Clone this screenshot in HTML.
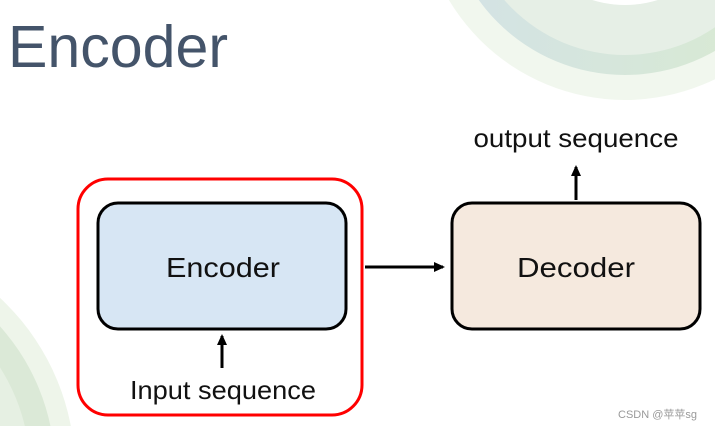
<!DOCTYPE html>
<html><head><style>
html,body{margin:0;padding:0;width:715px;height:426px;overflow:hidden;background:#fff;font-family:"Liberation Sans",sans-serif;}
svg{display:block;}
</style></head><body>
<svg width="715" height="426" viewBox="0 0 715 426" xmlns="http://www.w3.org/2000/svg">
<defs>
<linearGradient id="g1" x1="0" x2="1" y1="0" y2="0">
<stop offset="0" stop-color="#d3e2e6"/><stop offset="1" stop-color="#d9ebcf"/></linearGradient>
<marker id="ah" markerWidth="12" markerHeight="12" refX="9" refY="6" orient="auto" markerUnits="userSpaceOnUse"><path d="M0,1 L11,6 L0,11 z" fill="#000"/></marker>
</defs>
<circle cx="625" cy="-105" r="205" fill="#f1f7ee"/>
<circle cx="625" cy="-105" r="180" fill="url(#g1)"/>
<circle cx="625" cy="-105" r="160" fill="#e6efe6"/>
<circle cx="625" cy="-105" r="110" fill="#fff"/>
<circle cx="-160" cy="470" r="235" fill="#eef5ea"/>
<circle cx="-160" cy="470" r="215" fill="#dbe9d7"/>
<circle cx="-160" cy="470" r="190" fill="#e6f0e3"/>
<circle cx="-160" cy="470" r="165" fill="#fff"/>
<text x="8" y="67" font-size="59" fill="#44546a" textLength="220" lengthAdjust="spacingAndGlyphs">Encoder</text>
<rect x="78" y="179" width="284" height="236" rx="30" fill="#fff" stroke="#f00" stroke-width="3"/>
<rect x="98" y="203" width="248" height="126" rx="20" fill="#d7e6f4" stroke="#000" stroke-width="3"/>
<text x="223" y="277" text-anchor="middle" font-size="28" fill="#111" textLength="114" lengthAdjust="spacingAndGlyphs">Encoder</text>
<rect x="452" y="203" width="248" height="126" rx="20" fill="#f5e9de" stroke="#000" stroke-width="3"/>
<text x="576" y="277" text-anchor="middle" font-size="28" fill="#111" textLength="118" lengthAdjust="spacingAndGlyphs">Decoder</text>
<line x1="222" y1="368" x2="222" y2="336" stroke="#000" stroke-width="3" marker-end="url(#ah)"/>
<text x="223" y="399" text-anchor="middle" font-size="26" fill="#111" textLength="186" lengthAdjust="spacingAndGlyphs">Input sequence</text>
<line x1="365" y1="267" x2="443" y2="267" stroke="#000" stroke-width="3" marker-end="url(#ah)"/>
<line x1="576" y1="200" x2="576" y2="167" stroke="#000" stroke-width="3" marker-end="url(#ah)"/>
<text x="576" y="147" text-anchor="middle" font-size="26" fill="#111" textLength="205" lengthAdjust="spacingAndGlyphs">output sequence</text>
<text x="618" y="418" font-size="11" fill="#999">CSDN @苹苹sg</text>
</svg>
</body></html>
